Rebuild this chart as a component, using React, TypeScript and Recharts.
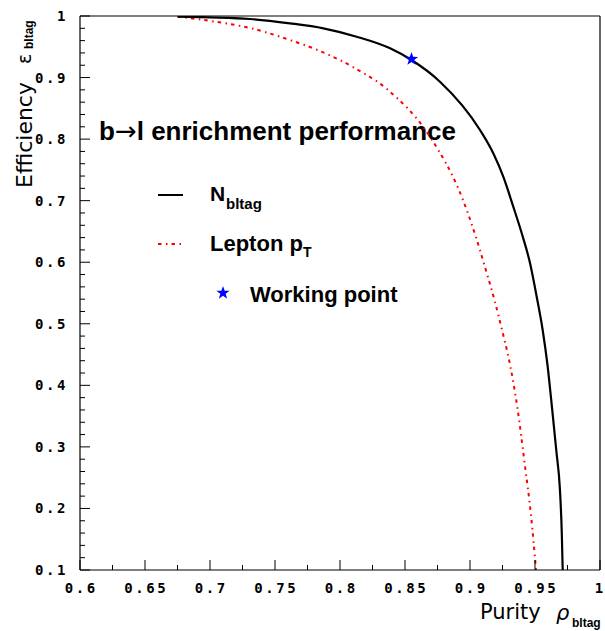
import React from "react";
import { ComposedChart, Line, Scatter, XAxis, YAxis, ReferenceLine } from "recharts";

// ---- data ----
const nbltagPurity = [0.675, 0.7308, 0.7615, 0.7872, 0.8128, 0.8385, 0.855, 0.8769, 0.9077, 0.9179, 0.9256, 0.9333, 0.9398, 0.9462, 0.9513, 0.9559, 0.9596, 0.9631, 0.9665, 0.9692, 0.9706, 0.9713];
const nbltagEff = [0.999, 0.9951, 0.9881, 0.98, 0.9664, 0.9475, 0.9285, 0.8933, 0.8148, 0.777, 0.739, 0.6902, 0.647, 0.5983, 0.544, 0.4899, 0.4331, 0.3632, 0.2917, 0.23, 0.1602, 0.1];

const leptonPurity = [0.675, 0.7054, 0.7308, 0.7615, 0.7846, 0.81, 0.8369, 0.8692, 0.8946, 0.9038, 0.9115, 0.9188, 0.9254, 0.9313, 0.9367, 0.9419, 0.9469, 0.9508];
const leptonEff = [0.999, 0.9903, 0.9805, 0.961, 0.9431, 0.9171, 0.8798, 0.8038, 0.7011, 0.6459, 0.5923, 0.5387, 0.4834, 0.4282, 0.36, 0.2755, 0.1894, 0.1];

const workingPointPurity = [0.855];
const workingPointEff = [0.93];

const xMajorTicks = [0.6, 0.65, 0.7, 0.75, 0.8, 0.85, 0.9, 0.95, 1];
const xMinorTicks = [0.625, 0.675, 0.725, 0.775, 0.825, 0.875, 0.925, 0.975];
const yMajorTicks = [0.1, 0.2, 0.3, 0.4, 0.5, 0.6, 0.7, 0.8, 0.9, 1];
const yMinorTicks = [
  0.12, 0.14, 0.16, 0.18, 0.22, 0.24, 0.26, 0.28, 0.32, 0.34, 0.36, 0.38,
  0.42, 0.44, 0.46, 0.48, 0.52, 0.54, 0.56, 0.58, 0.62, 0.64, 0.66, 0.68,
  0.72, 0.74, 0.76, 0.78, 0.82, 0.84, 0.86, 0.88, 0.92, 0.94, 0.96, 0.98,
];

const nbltagData = nbltagPurity.map((p, i) => ({ p, e: nbltagEff[i] }));
const leptonData = leptonPurity.map((p, i) => ({ p, e: leptonEff[i] }));
const wpData = workingPointPurity.map((p, i) => ({ p, e: workingPointEff[i] }));

const xTicks = [...xMajorTicks, ...xMinorTicks].sort((a, b) => a - b);
const yTicks = [...yMajorTicks, ...yMinorTicks].sort((a, b) => a - b);

const FONT_SANS = "'Liberation Sans', Arial, Helvetica, sans-serif";
const FONT_MONO = "'DejaVu Sans Mono', monospace";
const FONT_TITLE = "'DejaVu Sans', sans-serif";

const isMajor = (v: number, arr: number[]) => arr.some((m) => Math.abs(m - v) < 1e-9);
const fmt = (v: number) => (v === 1 ? "1" : String(v));

function XTick(props: any) {
  const { x, y, payload } = props;
  const v = payload.value;
  const major = isMajor(v, xMajorTicks);
  const last = v === 1;
  return (
    <g>
      <line x1={x} x2={x} y1={y} y2={y - (major ? 10 : 5)} stroke="#000" strokeWidth={1} />
      {major && (
        <text
          x={last ? x - 1 : x + 1.3}
          y={y + 23}
          textAnchor="middle"
          fontFamily={FONT_MONO}
          fontWeight="bold"
          fontSize={14}
          letterSpacing={last ? 0 : 2.6}
          fill="#000"
        >
          {fmt(v)}
        </text>
      )}
    </g>
  );
}

function YTick(props: any) {
  const { x, y, payload } = props;
  const v = payload.value;
  const major = isMajor(v, yMajorTicks);
  return (
    <g>
      <line x1={x} x2={x + (major ? 10 : 5)} y1={y} y2={y} stroke="#000" strokeWidth={1} />
      {major && (
        <text x={x - 12} y={y + 5} textAnchor="end" fontFamily={FONT_MONO} fontWeight="bold" fontSize={14} letterSpacing={2.6} fill="#000">
          {fmt(v)}
        </text>
      )}
    </g>
  );
}

function starPoints(cx: number, cy: number, R: number, r: number) {
  const pts: string[] = [];
  for (let i = 0; i < 10; i++) {
    const ang = -Math.PI / 2 + (i * Math.PI) / 5;
    const rad = i % 2 === 0 ? R : r;
    pts.push(`${cx + rad * Math.cos(ang)},${cy + rad * Math.sin(ang)}`);
  }
  return pts.join(" ");
}

function Star({ cx, cy }: { cx: number; cy: number }) {
  return <polygon points={starPoints(cx, cy, 7, 2.8)} fill="#0000ff" />;
}

function Annotations() {
  return (
    <svg width={605} height={631} style={{ position: "absolute", left: 0, top: 0 }}>
      {/* header */}
      <text x={99} y={140} fontFamily={FONT_SANS} fontWeight="bold" fontSize={26} fill="#000">
        b<tspan fontWeight="normal" fontFamily={FONT_TITLE} fontSize={26}>→</tspan>l enrichment performance
      </text>
      {/* legend */}
      <line x1={158} x2={183} y1={195} y2={195} stroke="#000" strokeWidth={2} />
      <text x={210} y={201} fontFamily={FONT_SANS} fontWeight="bold" fontSize={21} fill="#000">N</text>
      <text x={226} y={209} fontFamily={FONT_SANS} fontWeight="bold" fontSize={15} fill="#000">bltag</text>

      <line x1={158} x2={183} y1={244} y2={244} stroke="#ff0000" strokeWidth={2} strokeDasharray="3.5 4.5 1.5 4" />
      <text x={210} y={251} fontFamily={FONT_SANS} fontWeight="bold" fontSize={22} fill="#000">Lepton p</text>
      <text x={303} y={257} fontFamily={FONT_SANS} fontWeight="bold" fontSize={14} fill="#000">T</text>

      <Star cx={223} cy={293} />
      <text x={250} y={302} fontFamily={FONT_SANS} fontWeight="bold" fontSize={22} fill="#000">Working point</text>

      {/* axis titles */}
      <text transform="translate(32,188) rotate(-90)" fontFamily={FONT_TITLE} fontSize={22} fill="#000">Efficiency</text>
      <text transform="translate(31,64) rotate(-90)" fontFamily={FONT_TITLE} fontSize={19} fill="#000">ε</text>
      <text transform="translate(33,49) rotate(-90)" fontFamily={FONT_SANS} fontWeight="bold" fontSize={12} fill="#000">bltag</text>

      <text x={480} y={619} fontFamily={FONT_TITLE} fontSize={21} fill="#000">Purity</text>
      <text x={556} y={620} fontFamily={FONT_TITLE} fontStyle="italic" fontSize={21} fill="#000">ρ</text>
      <text x={572} y={627} fontFamily={FONT_SANS} fontWeight="bold" fontSize={12} fill="#000">bltag</text>
    </svg>
  );
}

export default function App() {
  return (
    <div style={{ position: "absolute", left: 0, top: 0, width: 605, height: 631, background: "#fff" }}>
      <Annotations />
      <div style={{ position: "absolute", left: 0, top: 0 }}>
        <ComposedChart width={605} height={631} margin={{ top: 16, right: 5, left: 0, bottom: 0 }}>
          <XAxis
            type="number"
            dataKey="p"
            domain={[0.6, 1]}
            ticks={xTicks}
            interval={0}
            tickSize={0}
            tickMargin={0}
            tickLine={false}
            tick={(p: any) => <XTick {...p} />}
            axisLine={{ stroke: "#000", strokeWidth: 1.2 }}
            height={61}
            allowDataOverflow
          />
          <YAxis
            type="number"
            dataKey="e"
            domain={[0.1, 1]}
            ticks={yTicks}
            interval={0}
            tickSize={0}
            tickMargin={0}
            tickLine={false}
            tick={(p: any) => <YTick {...p} />}
            axisLine={{ stroke: "#000", strokeWidth: 1.2 }}
            width={80}
            allowDataOverflow
          />
          <ReferenceLine y={1} stroke="#000" strokeWidth={1.2} />
          <ReferenceLine x={1} stroke="#000" strokeWidth={1.2} />
          <Line
            data={leptonData}
            dataKey="e"
            type="monotone"
            stroke="#ff0000"
            strokeWidth={2}
            strokeDasharray="3.5 4.5 1.5 4"
            dot={false}
            activeDot={false}
            isAnimationActive={false}
          />
          <Line
            data={nbltagData}
            dataKey="e"
            type="monotone"
            stroke="#000"
            strokeWidth={2.2}
            dot={false}
            activeDot={false}
            isAnimationActive={false}
          />
          <Scatter
            data={wpData}
            dataKey="e"
            shape={(p: any) => <Star cx={p.cx} cy={p.cy} />}
            isAnimationActive={false}
          />
        </ComposedChart>
      </div>
    </div>
  );
}
